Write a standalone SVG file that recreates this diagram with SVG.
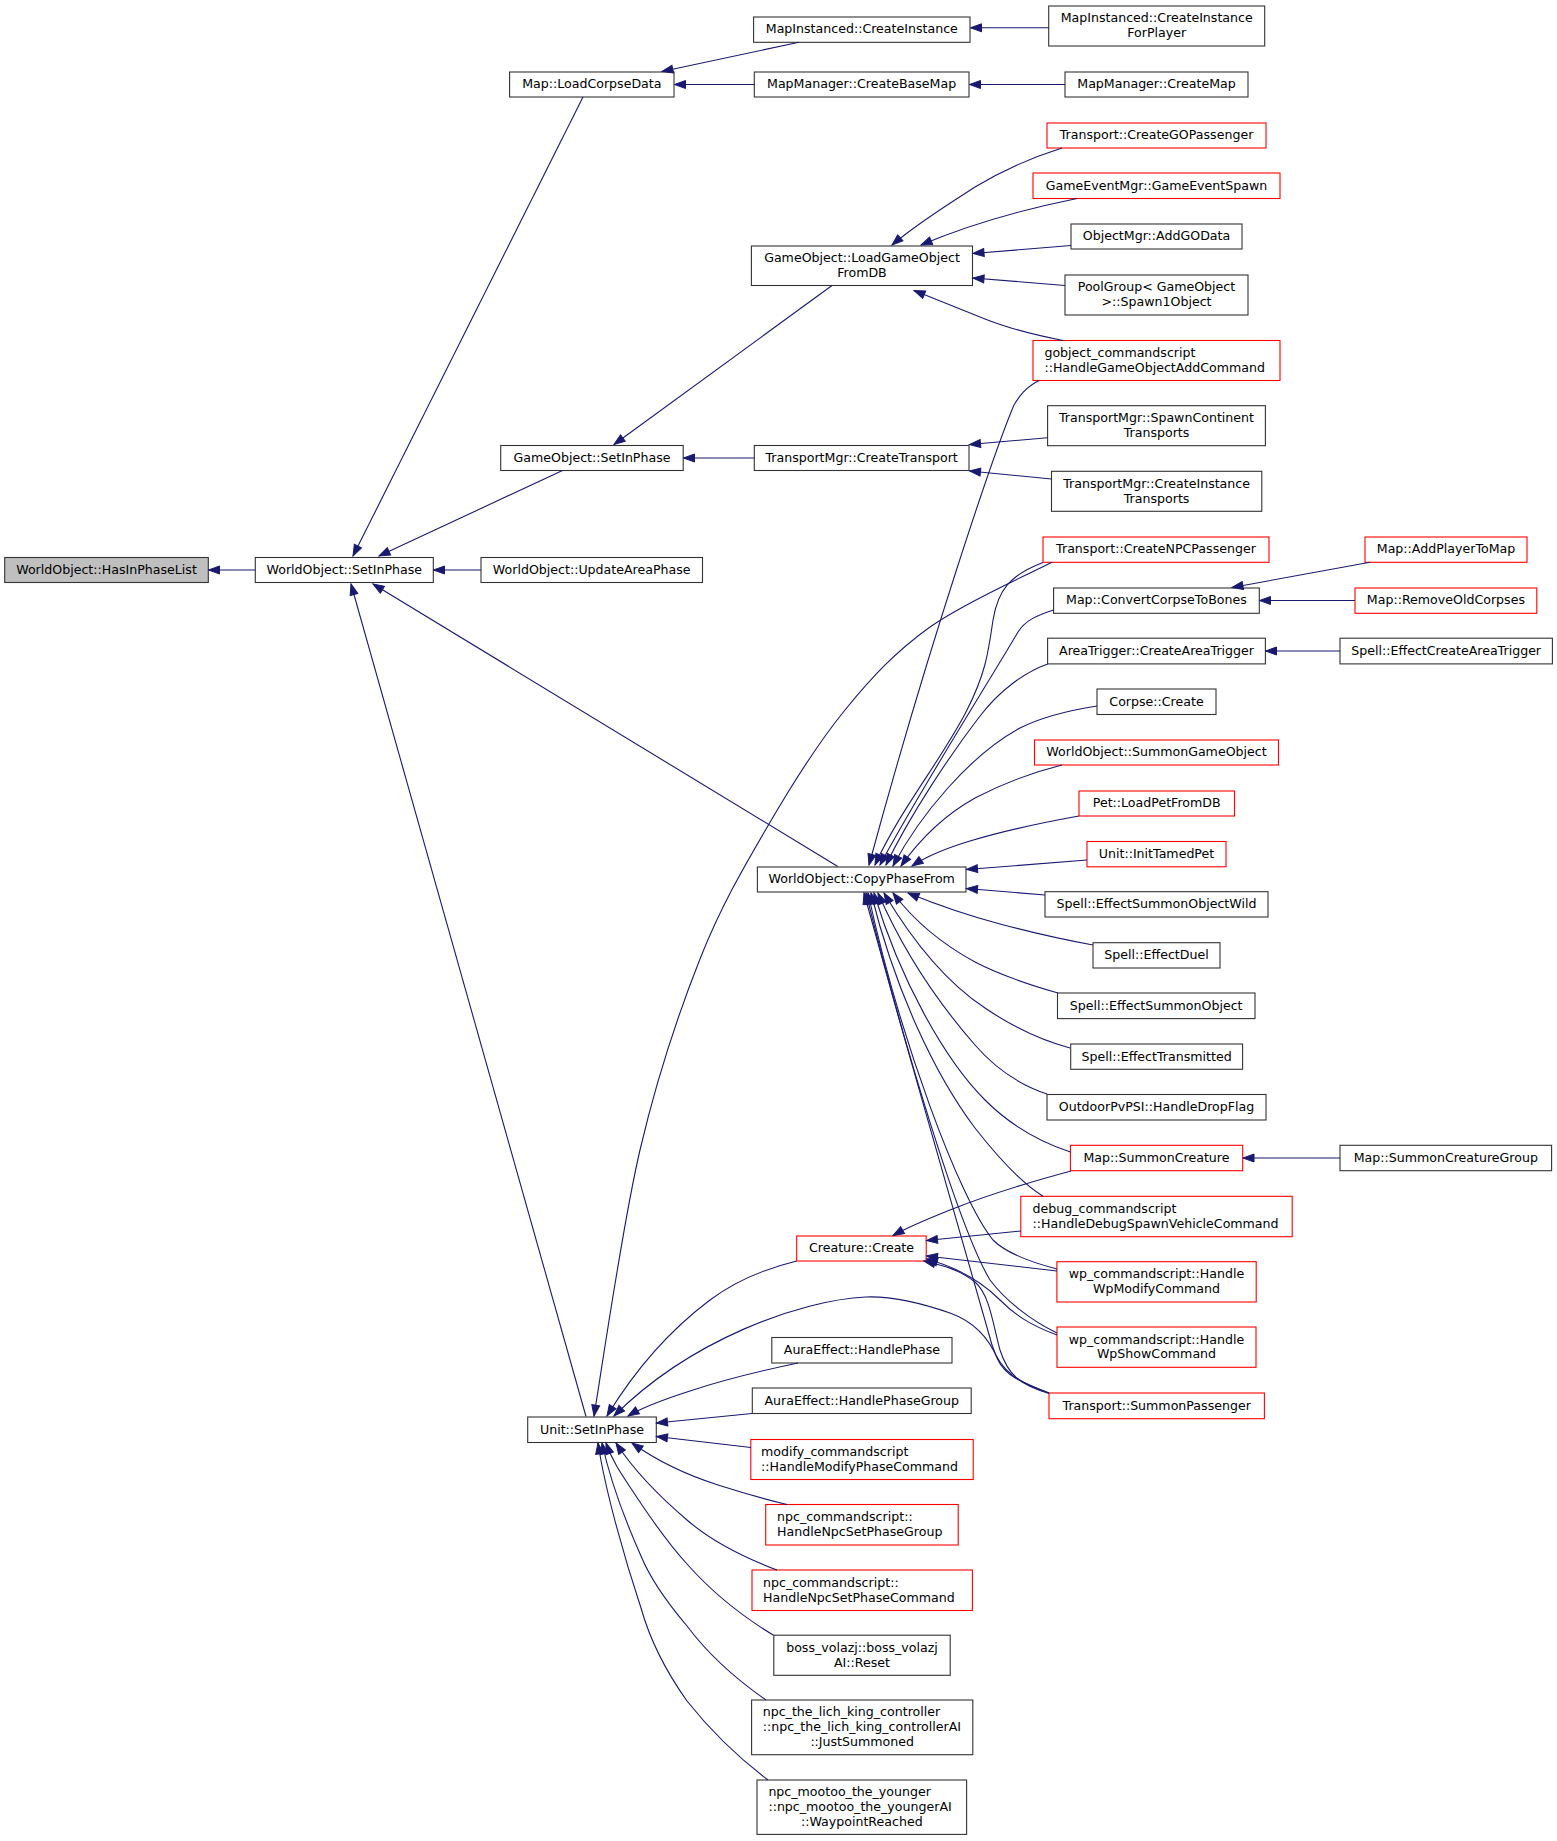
<svg xmlns="http://www.w3.org/2000/svg" width="1557" height="1841" viewBox="0 0 1557 1841">
<style>
.nd rect{fill:#fff;stroke:#333;stroke-width:1.1}
.nd.red rect{stroke:#f00}
.nd.root rect{fill:#bfbfbf}
text{font-family:"DejaVu Sans","Liberation Sans",sans-serif;font-size:12.6px;fill:#000}
.c{text-anchor:middle}
.e path{fill:none;stroke:#191970;stroke-width:1.1;marker-end:url(#ah)}
</style>
<defs>
<marker id="ah" markerWidth="13" markerHeight="10" refX="11" refY="4.5" orient="auto" markerUnits="userSpaceOnUse" overflow="visible">
<path d="M0,0.5 L11,4.5 L0,8.5 z" fill="#191970" stroke="#191970" stroke-width="1"/>
</marker>
</defs>
<rect width="1557" height="1841" fill="#fff"/>

<g id="nodes">
<g id="n_hasinphaselist" class="nd root"><rect x="4.7" y="557.5" width="203.6" height="25"/><text class="c" x="106.5" y="573.8">WorldObject::HasInPhaseList</text></g>
<g id="n_wo_setinphase" class="nd"><rect x="255.3" y="557.5" width="178" height="25"/><text class="c" x="344.3" y="573.8">WorldObject::SetInPhase</text></g>
<g id="n_updateareaphase" class="nd"><rect x="481" y="557.5" width="221.5" height="25"/><text class="c" x="591.7" y="573.8">WorldObject::UpdateAreaPhase</text></g>
<g id="n_loadcorpsedata" class="nd"><rect x="509.6" y="72" width="164.4" height="25"/><text class="c" x="591.8" y="88.3">Map::LoadCorpseData</text></g>
<g id="n_go_setinphase" class="nd"><rect x="500.7" y="445.5" width="182.5" height="25"/><text class="c" x="592" y="461.8">GameObject::SetInPhase</text></g>
<g id="n_createinstance" class="nd"><rect x="753.6" y="17" width="216.4" height="25.3"/><text class="c" x="861.8" y="33.4">MapInstanced::CreateInstance</text></g>
<g id="n_createbasemap" class="nd"><rect x="754.3" y="72" width="214.7" height="25"/><text class="c" x="861.6" y="88.3">MapManager::CreateBaseMap</text></g>
<g id="n_loadgofromdb" class="nd"><rect x="751.4" y="246" width="221.1" height="39.5"/><text class="c" x="862" y="262.2">GameObject::LoadGameObject</text><text class="c" x="862" y="277">FromDB</text></g>
<g id="n_createtransport" class="nd"><rect x="754.3" y="445.5" width="214.7" height="25"/><text class="c" x="861.6" y="461.8">TransportMgr::CreateTransport</text></g>
<g id="n_copyphasefrom" class="nd"><rect x="757.4" y="867" width="208.6" height="25"/><text class="c" x="861.7" y="883.3">WorldObject::CopyPhaseFrom</text></g>
<g id="n_creature_create" class="nd red"><rect x="796.7" y="1236" width="129.5" height="25"/><text class="c" x="861.5" y="1252.3">Creature::Create</text></g>
<g id="n_handlephase" class="nd"><rect x="771.8" y="1337.5" width="180.2" height="25.5"/><text class="c" x="861.9" y="1354">AuraEffect::HandlePhase</text></g>
<g id="n_handlephasegroup" class="nd"><rect x="752.3" y="1388" width="218.9" height="25.5"/><text class="c" x="861.75" y="1404.5">AuraEffect::HandlePhaseGroup</text></g>
<g id="n_unit_setinphase" class="nd"><rect x="527.7" y="1417" width="128.6" height="25.5"/><text class="c" x="592" y="1433.5">Unit::SetInPhase</text></g>
<g id="n_modify" class="nd red"><rect x="750.8" y="1439.5" width="222.4" height="40"/><text x="761" y="1455.9">modify_commandscript</text><text x="761" y="1470.7">::HandleModifyPhaseCommand</text></g>
<g id="n_npc_phasegroup" class="nd red"><rect x="765.7" y="1504.5" width="192.5" height="40.5"/><text x="777" y="1521.2">npc_commandscript::</text><text x="777" y="1536">HandleNpcSetPhaseGroup</text></g>
<g id="n_npc_phasecommand" class="nd red"><rect x="752" y="1570" width="220.4" height="40.5"/><text x="763" y="1586.7">npc_commandscript::</text><text x="763" y="1601.5">HandleNpcSetPhaseCommand</text></g>
<g id="n_volazj" class="nd"><rect x="773.8" y="1635.2" width="176.4" height="40.1"/><text class="c" x="862" y="1651.7">boss_volazj::boss_volazj</text><text class="c" x="862" y="1666.5">AI::Reset</text></g>
<g id="n_lichking" class="nd"><rect x="751.6" y="1700" width="221.2" height="54.7"/><text x="762.7" y="1716.3">npc_the_lich_king_controller</text><text x="762.7" y="1731.1">::npc_the_lich_king_controllerAI</text><text class="c" x="862.2" y="1745.9">::JustSummoned</text></g>
<g id="n_mootoo" class="nd"><rect x="757" y="1780" width="209.6" height="54.4"/><text x="768.4" y="1796.2">npc_mootoo_the_younger</text><text x="768.4" y="1811">::npc_mootoo_the_youngerAI</text><text class="c" x="861.8" y="1825.8">::WaypointReached</text></g>

<g id="n_forplayer" class="nd"><rect x="1048.7" y="6" width="216" height="40"/><text class="c" x="1156.7" y="22.4">MapInstanced::CreateInstance</text><text class="c" x="1156.7" y="37.2">ForPlayer</text></g>
<g id="n_createmap" class="nd"><rect x="1065" y="72" width="183" height="25"/><text class="c" x="1156.5" y="88.3">MapManager::CreateMap</text></g>
<g id="n_creategopassenger" class="nd red"><rect x="1047" y="123" width="219" height="25"/><text class="c" x="1156.5" y="139.3">Transport::CreateGOPassenger</text></g>
<g id="n_gameeventspawn" class="nd red"><rect x="1033" y="173" width="247" height="25.5"/><text class="c" x="1156.5" y="189.5">GameEventMgr::GameEventSpawn</text></g>
<g id="n_addgodata" class="nd"><rect x="1071" y="224" width="171" height="25"/><text class="c" x="1156.5" y="240.3">ObjectMgr::AddGOData</text></g>
<g id="n_spawn1object" class="nd"><rect x="1065" y="275" width="183" height="40"/><text class="c" x="1156.5" y="291.4">PoolGroup&lt; GameObject</text><text class="c" x="1156.5" y="306.2">&gt;::Spawn1Object</text></g>
<g id="n_gobject_add" class="nd red"><rect x="1033" y="340.5" width="247" height="40"/><text x="1044.4" y="356.9">gobject_commandscript</text><text x="1044.4" y="371.7">::HandleGameObjectAddCommand</text></g>
<g id="n_spawncontinent" class="nd"><rect x="1047.6" y="405.7" width="217.8" height="40"/><text class="c" x="1156.5" y="422.1">TransportMgr::SpawnContinent</text><text class="c" x="1156.5" y="436.9">Transports</text></g>
<g id="n_createinstancetransports" class="nd"><rect x="1051.5" y="471.3" width="210.3" height="40"/><text class="c" x="1156.6" y="487.7">TransportMgr::CreateInstance</text><text class="c" x="1156.6" y="502.5">Transports</text></g>
<g id="n_createnpcpassenger" class="nd red"><rect x="1043" y="537" width="226" height="25.3"/><text class="c" x="1156" y="553.4">Transport::CreateNPCPassenger</text></g>
<g id="n_convertcorpse" class="nd"><rect x="1053.6" y="588" width="205.7" height="25.3"/><text class="c" x="1156.4" y="604.4">Map::ConvertCorpseToBones</text></g>
<g id="n_createareatrigger" class="nd"><rect x="1047.6" y="638.2" width="217.8" height="25.7"/><text class="c" x="1156.5" y="654.8">AreaTrigger::CreateAreaTrigger</text></g>
<g id="n_corpse_create" class="nd"><rect x="1097" y="689" width="119" height="25.5"/><text class="c" x="1156.5" y="705.5">Corpse::Create</text></g>
<g id="n_summongameobject" class="nd red"><rect x="1034.5" y="740" width="244" height="25"/><text class="c" x="1156.5" y="756.3">WorldObject::SummonGameObject</text></g>
<g id="n_loadpetfromdb" class="nd red"><rect x="1079" y="791" width="155.5" height="25"/><text class="c" x="1156.7" y="807.3">Pet::LoadPetFromDB</text></g>
<g id="n_inittamedpet" class="nd red"><rect x="1087" y="841.5" width="139" height="25.3"/><text class="c" x="1156.5" y="857.8">Unit::InitTamedPet</text></g>
<g id="n_summonobjectwild" class="nd"><rect x="1045" y="891.7" width="223" height="25.3"/><text class="c" x="1156.5" y="908.1">Spell::EffectSummonObjectWild</text></g>
<g id="n_effectduel" class="nd"><rect x="1093" y="942.7" width="127" height="25.3"/><text class="c" x="1156.5" y="959.2">Spell::EffectDuel</text></g>
<g id="n_summonobject" class="nd"><rect x="1057.5" y="993" width="197.5" height="25.6"/><text class="c" x="1156.2" y="1009.6">Spell::EffectSummonObject</text></g>
<g id="n_transmitted" class="nd"><rect x="1070.7" y="1044" width="171.9" height="25.3"/><text class="c" x="1156.6" y="1060.5">Spell::EffectTransmitted</text></g>
<g id="n_dropflag" class="nd"><rect x="1047" y="1094.5" width="219" height="25.5"/><text class="c" x="1156.5" y="1111">OutdoorPvPSI::HandleDropFlag</text></g>
<g id="n_summoncreature" class="nd red"><rect x="1070.4" y="1145.3" width="172.3" height="25.4"/><text class="c" x="1156.5" y="1161.8">Map::SummonCreature</text></g>
<g id="n_debugspawn" class="nd red"><rect x="1020.8" y="1196.3" width="271.4" height="40.4"/><text x="1032.5" y="1212.9">debug_commandscript</text><text x="1032.5" y="1227.7">::HandleDebugSpawnVehicleCommand</text></g>
<g id="n_wpmodify" class="nd red"><rect x="1056.9" y="1261.7" width="199.3" height="40.3"/><text class="c" x="1156.5" y="1278.2">wp_commandscript::Handle</text><text class="c" x="1156.5" y="1293">WpModifyCommand</text></g>
<g id="n_wpshow" class="nd red"><rect x="1057" y="1327" width="199" height="40.3"/><text class="c" x="1156.5" y="1343.6">wp_commandscript::Handle</text><text class="c" x="1156.5" y="1358.4">WpShowCommand</text></g>
<g id="n_summonpassenger" class="nd red"><rect x="1049" y="1393" width="215.4" height="25.7"/><text class="c" x="1156.7" y="1409.7">Transport::SummonPassenger</text></g>

<g id="n_addplayertomap" class="nd red"><rect x="1365" y="537" width="162" height="25.3"/><text class="c" x="1446" y="553.4">Map::AddPlayerToMap</text></g>
<g id="n_removeoldcorpses" class="nd red"><rect x="1355" y="588" width="181.8" height="25.3"/><text class="c" x="1445.9" y="604.4">Map::RemoveOldCorpses</text></g>
<g id="n_effectcreateareatrigger" class="nd"><rect x="1340" y="638.2" width="212.4" height="25.7"/><text class="c" x="1446.2" y="654.8">Spell::EffectCreateAreaTrigger</text></g>
<g id="n_summoncreaturegroup" class="nd"><rect x="1340" y="1145.3" width="211.6" height="25.4"/><text class="c" x="1445.8" y="1161.8">Map::SummonCreatureGroup</text></g>
</g>

<g id="edges" class="e">
<path d="M255.3,570 L208.5,570"/>
<path d="M583,97 L353,556"/>
<path d="M562.5,470.5 L379,556"/>
<path d="M481,570 L433.5,570"/>
<path d="M837.8,866.5 L373,584"/>
<path d="M586,1416.5 L351,584"/>
<path d="M799,42.3 L662,71.5"/>
<path d="M754.3,84.5 L674.5,84.5"/>
<path d="M1048.7,27.8 L970.5,27.8"/>
<path d="M1065,84.5 L969.5,84.5"/>
<path d="M832,285.5 L614,444.5"/>
<path d="M754.3,458 L683.5,458"/>
<path d="M1062,148 C1030,158 1000,172 975,187 C950,203 915,225 892,245"/>
<path d="M1077,198.5 C1040,206 980,220 921,245"/>
<path d="M1071,245.5 L973,253.5"/>
<path d="M1065,285.5 L973,278"/>
<path d="M1063,340.5 C1040,336 1010,329 985,319 C960,309 935,299 914,290.5"/>
<path d="M1039,380.5 C1025,388 1020,395 1014,405 C995,450 930,640 869,865"/>
<path d="M1047.6,437.7 L969.5,444.5"/>
<path d="M1051.5,479 L969.5,471"/>
<path d="M1043,562.5 C1010,575 998,590 993,620 C988,655 985,675 966,712 C940,762 900,810 875,865"/>
<path d="M1052,562.3 C1031.7,572.8 964.5,602.3 930,627 C895.5,651.7 871.8,677.2 845,710 C818.2,742.8 793.2,782.5 769,824 C744.8,865.5 721.5,904.7 700,959 C678.5,1013.3 657.5,1075.3 640,1150 C622.5,1224.7 602.5,1364.2 594,1416"/>
<path d="M1053.5,610 C1035,616 1025,621 1018,632 C990,680 920,790 880,865"/>
<path d="M1047.7,664 C1025,672 1000,690 980,716 C950,755 910,815 886,865"/>
<path d="M1097,706 C1065,711 1040,718 1020,728 C970,755 920,815 893,866"/>
<path d="M1062,765 C1030,773 1000,785 975,798 C950,812 925,832 901,866"/>
<path d="M1079,816 C1040,823 1000,832 970,841 C950,847 930,854 912,866"/>
<path d="M1087,860 L966.5,869.5"/>
<path d="M1045,895 L966.5,888.5"/>
<path d="M1093,945 C1060,939 1030,932 1000,924 C970,916 940,906 908,893"/>
<path d="M1058,993 C1030,985 1000,975 975,962 C940,943 915,922 893,893"/>
<path d="M1070,1048 C1040,1040 1010,1025 985,1008 C950,985 915,945 884,893"/>
<path d="M1047,1094 C1020,1085 995,1068 975,1045 C940,1005 905,955 878,893"/>
<path d="M1070.5,1152 C1040,1142 1010,1125 985,1100 C945,1060 900,980 874,893"/>
<path d="M1043,1196.3 C1025,1185 1000,1160 975,1128 C935,1075 895,990 871,893"/>
<path d="M1057,1269 C1030,1262 1005,1252 993,1240 C960,1200 900,1040 868,893"/>
<path d="M1057,1333 C1030,1320 1005,1300 990,1280 C960,1230 905,1050 866,893"/>
<path d="M1049,1393 C1020,1383 1000,1372 992,1345 C970,1270 910,1060 864,893"/>
<path d="M1071,1171 C1030,1182 990,1194 950,1210 C930,1218 910,1226 893,1235.5"/>
<path d="M1021,1231 L926.5,1240.5"/>
<path d="M1057,1271 L926.5,1256"/>
<path d="M1057,1335 C1030,1325 1015,1315 1000,1300 C985,1285 960,1268 926.5,1259"/>
<path d="M1049,1393.5 C1020,1385 1008,1375 1000,1350 C993,1325 990,1295 975,1282 C960,1270 945,1266 924,1261"/>
<path d="M796.7,1261 C760,1270 730,1285 710,1300 C670,1330 635,1370 607,1416"/>
<path d="M1049,1393 C1020,1382 1005,1375 998,1360 C990,1340 975,1322 950,1313 C915,1301 890,1296 866,1297 C800,1300 690,1340 614,1416"/>
<path d="M798,1363 C760,1371 720,1381 690,1391 C665,1399 645,1406 628,1416"/>
<path d="M752,1413.5 L656.5,1423"/>
<path d="M751,1447.5 L656.5,1436.5"/>
<path d="M787,1504.5 C760,1498 740,1492 718,1485 C690,1476 660,1463 632,1443"/>
<path d="M777,1570 C740,1556 710,1540 687,1520 C660,1497 635,1472 616,1443"/>
<path d="M773.5,1635.2 C740,1615 710,1590 687,1564 C665,1540 645,1510 630,1487 C620,1472 612,1460 606,1443"/>
<path d="M766,1700 C730,1675 705,1650 687,1626 C665,1600 650,1578 641,1556 C625,1520 610,1480 602,1443"/>
<path d="M768,1780 C735,1755 710,1730 687,1701 C665,1670 650,1640 641,1608 C625,1560 605,1490 598,1443"/>
<path d="M1370,562.3 L1232,587.5"/>
<path d="M1355,600.5 L1259.5,600.5"/>
<path d="M1340,651 L1265.5,651"/>
<path d="M1340,1158 L1243,1158"/>
</g>
</svg>
